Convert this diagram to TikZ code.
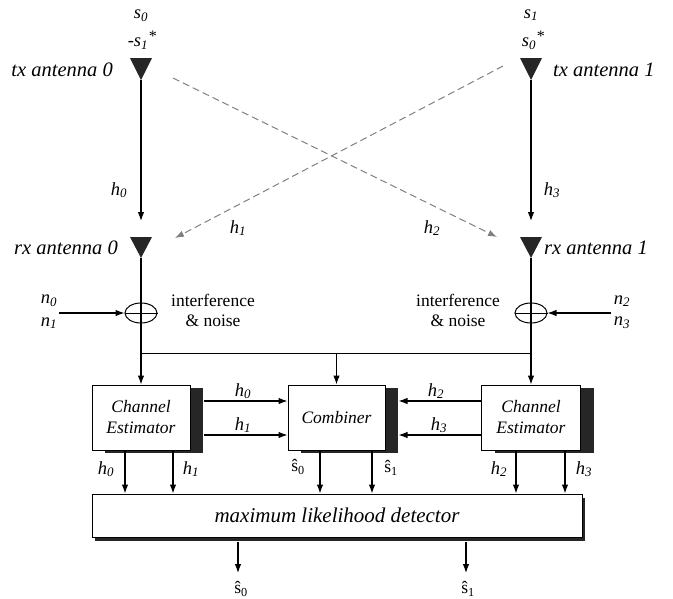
\documentclass[tikz,border=0pt]{standalone}
\usepackage{fontspec}
\setmainfont{Liberation Serif}
\usetikzlibrary{arrows.meta,shadows,shapes.geometric}
\newcommand\hsub[2]{\textit{#1}\textsubscript{\textit{#2}}}
\newcommand\shat[1]{ŝ\textsubscript{#1}}
\newcommand\cstar{\raisebox{5pt}{\fontsize{16}{16}\selectfont*}}
\begin{document}
\begin{tikzpicture}[x=1pt,y=-1pt,
  lbl/.style={font=\fontsize{18.5}{20}\selectfont\itshape, inner sep=0},
  antl/.style={font=\fontsize{20.5}{22}\selectfont\itshape, inner sep=0},
  txt/.style={font=\fontsize{17.5}{21}\selectfont, inner sep=0, align=center},
  wire/.style={line width=1.1pt},
  arr/.style={wire,-{Latex[length=9pt,width=6.5pt]}},
  darr/.style={line width=1pt, gray, dash pattern=on 7pt off 4pt, -{Latex[length=9pt,width=6.5pt]}},
  ant/.style={fill=black!85},
  boxshadow/.style={drop shadow={shadow xshift=13pt,shadow yshift=-3pt,fill=black!85,opacity=1}},
  blk/.style={draw, line width=1pt, fill=white, minimum height=65pt, inner sep=0, align=center,
    font=\fontsize{17.5}{21}\selectfont\itshape, boxshadow},
  sum/.style={draw, ellipse, line width=1pt, minimum width=32pt, minimum height=20pt, inner sep=0}
]
\useasboundingbox (0,0) rectangle (673,598);

% antennas
\coordinate (tx0) at (141,58);
\coordinate (tx0tip) at (141,80);
\coordinate (tx1) at (531,58);
\coordinate (tx1tip) at (531,80);
\coordinate (rx0) at (141,237);
\coordinate (rx0tip) at (141,258);
\coordinate (rx1) at (531,237);
\coordinate (rx1tip) at (531,258);
\fill[ant] (tx0) +(-11,0) -- +(11,0) -- +(0,22) -- cycle;
\fill[ant] (tx1) +(-11,0) -- +(11,0) -- +(0,22) -- cycle;
\fill[ant] (rx0) +(-11,0) -- +(11,0) -- +(0,21) -- cycle;
\fill[ant] (rx1) +(-11,0) -- +(11,0) -- +(0,21) -- cycle;

% transmitted symbols
\node[lbl] (s0a) at (141,16) {\hsub{s}{0}};
\node[lbl] (s1a) at (142,40) {\hsub{-s}{1}\cstar};
\node[lbl] (s1b) at (531,15) {\hsub{s}{1}};
\node[lbl] (s0b) at (533,40) {\hsub{s}{0}\cstar};

\node[antl, anchor=east] (tx0l) at (113,70) {tx antenna 0};
\node[antl, anchor=west] (tx1l) at (553,70) {tx antenna 1};
\node[antl, anchor=east] (rx0l) at (118,248) {rx antenna 0};
\node[antl, anchor=west] (rx1l) at (544,248) {rx antenna 1};

% direct channels
\coordinate (a0) at (141,221);
\coordinate (a1) at (531,221);
\draw[arr] (tx0tip) -- (a0);
\draw[arr] (tx1tip) -- (a1);
\node[lbl] (h0t) at (119,190) {\hsub{h}{0}};
\node[lbl] (h3t) at (552,190) {\hsub{h}{3}};

% cross channels
\coordinate (d0s) at (173,78);
\coordinate (d0e) at (497,237);
\coordinate (d1s) at (503,66);
\coordinate (d1e) at (175,238);
\draw[darr] (d0s) -- (d0e);
\draw[darr] (d1s) -- (d1e);
\node[lbl] (h1c) at (238,228) {\hsub{h}{1}};
\node[lbl] (h2c) at (432,228) {\hsub{h}{2}};

% noise adders
\node[sum] (c0) at (141,313) {};
\node[sum] (c1) at (531,313) {};
\draw[line width=1pt] (c0.west) -- (c0.east);
\draw[line width=1pt] (c1.west) -- (c1.east);
\coordinate (n0s) at (59,313);
\coordinate (n1s) at (611,313);
\draw[arr] (n0s) -- (c0.west);
\draw[arr] (n1s) -- (c1.east);
\node[lbl] (n0) at (49,301) {\hsub{n}{0}};
\node[lbl] (n1) at (49,323) {\hsub{n}{1}};
\node[lbl] (n2) at (622,301) {\hsub{n}{2}};
\node[lbl] (n3) at (622,323) {\hsub{n}{3}};
\node[txt] (in0) at (213,310) {interference\\[-1pt]\& noise};
\node[txt] (in1) at (458,310) {interference\\[-1pt]\& noise};

% blocks
\node[blk, minimum width=98pt] (ce0) at (141,417.5) {Channel\\Estimator};
\node[blk, minimum width=97pt] (comb) at (336.5,417.5) {Combiner};
\node[blk, minimum width=99pt] (ce1) at (531,417.5) {Channel\\Estimator};
\node[draw, line width=1pt, fill=white, minimum width=490pt, minimum height=43pt, inner sep=0,
  font=\fontsize{21}{24}\selectfont\itshape,
  drop shadow={shadow xshift=3pt,shadow yshift=-4pt,fill=black!85,opacity=1}]
  (ml) at (337,515.5) {maximum likelihood detector};

% receive paths and bus
\coordinate (bus0) at (141,353);
\coordinate (bus1) at (531,353);
\draw[wire] (rx0tip) -- (c0.south);
\draw[wire] (rx1tip) -- (c1.south);
\draw[arr] (c0.south) -- (ce0.north);
\draw[arr] (c1.south) -- (ce1.north);
\draw[line width=1pt] (bus0) -- (bus1);
\draw[arr] (bus0 -| comb.north) -- (comb.north);

% estimator to combiner
\coordinate (ce0r) at ([xshift=13pt]ce0.east);
\coordinate (combr) at ([xshift=13pt]comb.east);
\draw[arr] (ce0r |- 0,401) -- (comb.west |- 0,401);
\draw[arr] (ce0r |- 0,435) -- (comb.west |- 0,435);
\draw[arr] (ce1.west |- 0,401) -- (combr |- 0,401);
\draw[arr] (ce1.west |- 0,435) -- (combr |- 0,435);
\node[lbl] (h0m) at (243,391) {\hsub{h}{0}};
\node[lbl] (h1m) at (243,425) {\hsub{h}{1}};
\node[lbl] (h2m) at (436,391) {\hsub{h}{2}};
\node[lbl] (h3m) at (439,425) {\hsub{h}{3}};

% into the detector
\foreach \x/\src in {125/ce0,173/ce0,320/comb,372/comb,516/ce1,565/ce1}
  \draw[arr] (\src.south -| \x,0) -- (ml.north -| \x,0);
\node[lbl] (h0b) at (106,469) {\hsub{h}{0}};
\node[lbl] (h1b) at (191,469) {\hsub{h}{1}};
\node[txt] (s0m) at (298,467) {\shat{0}};
\node[txt] (s1m) at (391,468) {\shat{1}};
\node[lbl] (h2b) at (499,469) {\hsub{h}{2}};
\node[lbl] (h3b) at (584,469) {\hsub{h}{3}};

% outputs
\coordinate (o0) at (238,573);
\coordinate (o1) at (466,573);
\draw[arr] ([yshift=-4pt]ml.south -| o0) -- (o0);
\draw[arr] ([yshift=-4pt]ml.south -| o1) -- (o1);
\node[txt] (s0o) at (241,589) {\shat{0}};
\node[txt] (s1o) at (468,589) {\shat{1}};
\end{tikzpicture}
\end{document}
